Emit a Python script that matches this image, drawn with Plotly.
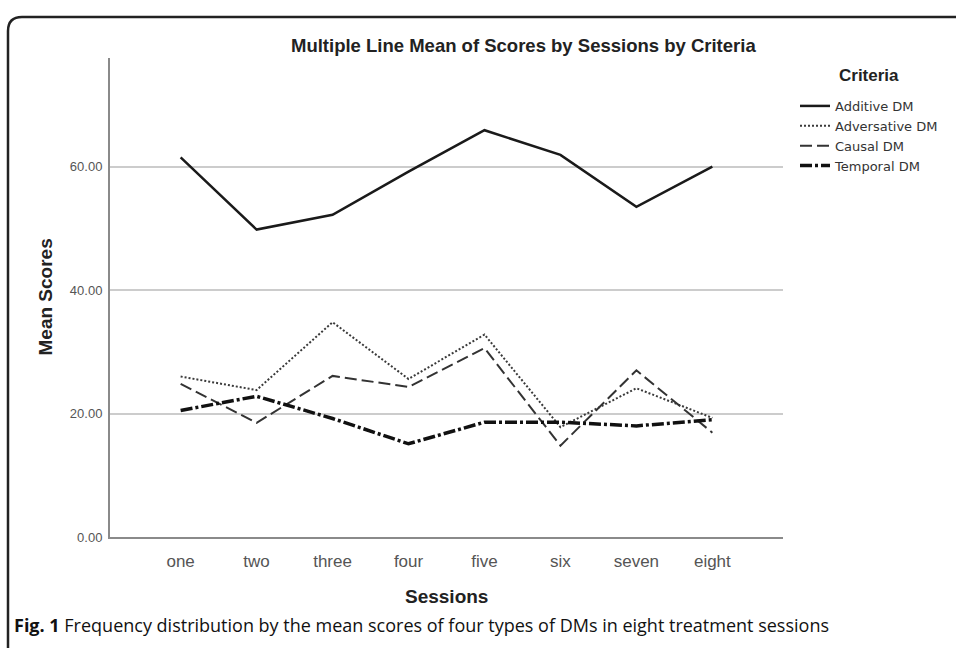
import plotly.graph_objects as go

sessions = ["one", "two", "three", "four", "five", "six", "seven", "eight"]
additive = [61.5, 49.8, 52.2, 59.2, 65.9, 61.9, 53.5, 60.0]
adversative = [26.0, 23.8, 34.8, 25.6, 32.8, 17.8, 24.1, 19.3]
causal = [24.8, 18.5, 26.1, 24.3, 30.6, 14.8, 27.0, 16.9]
temporal = [20.5, 22.8, 19.2, 15.1, 18.6, 18.6, 18.0, 19.0]
y_ticks = [0, 20, 40, 60]

W, H = 956, 648
L_PX, R_PX, T_PX, B_PX = 110, 783, 58, 537.5


def px_x(x):
    return (x - L_PX) / (R_PX - L_PX)


def px_y(y):
    return (B_PX - y) / (B_PX - T_PX)


FONT = "Liberation Sans"

fig = go.Figure()
fig.add_trace(go.Scatter(x=sessions, y=additive, name="Additive DM", mode="lines",
                         line=dict(color="#1a1a1a", width=2.5)))
fig.add_trace(go.Scatter(x=sessions, y=adversative, name="Adversative DM", mode="lines",
                         line=dict(color="#3a3a3a", width=2, dash="2px,2px")))
fig.add_trace(go.Scatter(x=sessions, y=causal, name="Causal DM", mode="lines",
                         line=dict(color="#333333", width=2, dash="12px,5px")))
fig.add_trace(go.Scatter(x=sessions, y=temporal, name="Temporal DM", mode="lines",
                         line=dict(color="#111111", width=3.5, dash="12px,3px,3px,3px")))

# frame around figure
Lf, Tf, Bf, Rf = px_x(8), px_y(17), px_y(670), px_x(980)
rx, ry = 14 / (R_PX - L_PX), 14 / (B_PX - T_PX)
fig.add_shape(type="path", xref="paper", yref="paper",
              path=f"M {Lf},{Bf} L {Lf},{Tf - ry} Q {Lf},{Tf} {Lf + rx},{Tf} L {Rf},{Tf}",
              line=dict(color="#222222", width=2.5))

fig.add_annotation(text="<b>Multiple Line Mean of Scores by Sessions by Criteria</b>",
                   xref="paper", yref="paper", x=px_x(523), y=px_y(45),
                   xanchor="center", yanchor="middle",
                   showarrow=False, font=dict(family=FONT, size=18.5, color="#222222"))
fig.add_annotation(text="<b>Mean Scores</b>", xref="paper", yref="paper",
                   x=px_x(45), y=0.5, textangle=-90, showarrow=False,
                   xanchor="center", yanchor="middle",
                   font=dict(family=FONT, size=19, color="#222222"))
fig.add_annotation(text="<b>Sessions</b>", xref="paper", yref="paper",
                   x=0.5, y=px_y(597), showarrow=False,
                   xanchor="center", yanchor="middle",
                   font=dict(family=FONT, size=19, color="#222222"))
fig.add_annotation(text="<b>Fig. 1</b> Frequency distribution by the mean scores of four types of DMs in eight treatment sessions",
                   xref="paper", yref="paper", x=px_x(12), y=px_y(626),
                   xanchor="left", yanchor="middle", showarrow=False,
                   font=dict(family="Open Sans", size=18, color="#111111"))
# legend heading
fig.add_annotation(text="<b>Criteria</b>", xref="paper", yref="paper",
                   x=px_x(869), y=px_y(76), xanchor="center", yanchor="middle",
                   showarrow=False, font=dict(family=FONT, size=17, color="#222222"))

fig.update_layout(
    width=W, height=H,
    margin=dict(l=L_PX, r=W - R_PX, t=T_PX, b=H - B_PX, autoexpand=False),
    paper_bgcolor="white", plot_bgcolor="white",
    font=dict(family=FONT, color="#333333"),
    showlegend=True,
    legend=dict(x=px_x(795), y=px_y(91), xanchor="left", yanchor="top",
                bgcolor="rgba(0,0,0,0)",
                font=dict(family="DejaVu Sans", size=13, color="#333333"),
                itemwidth=30, tracegroupgap=0),
    xaxis=dict(type="category", range=[-0.93, 7.93], showgrid=False,
               showline=True, linecolor="#8a8a8a", linewidth=2,
               ticks="", ticklabelstandoff=8,
               tickfont=dict(family=FONT, size=17, color="#555555"),
               zeroline=False, fixedrange=True),
    yaxis=dict(range=[0, 77.6], tickvals=y_ticks, tickformat=".2f",
               showgrid=True, gridcolor="#cccccc", gridwidth=1.5,
               showline=True, linecolor="#8a8a8a", linewidth=2,
               ticks="", ticklabelstandoff=3,
               tickfont=dict(family=FONT, size=13, color="#555555"),
               zeroline=False, fixedrange=True),
)

fig.write_html("out.html", config={"displayModeBar": False},
               post_script="document.body.style.margin='0px';")
